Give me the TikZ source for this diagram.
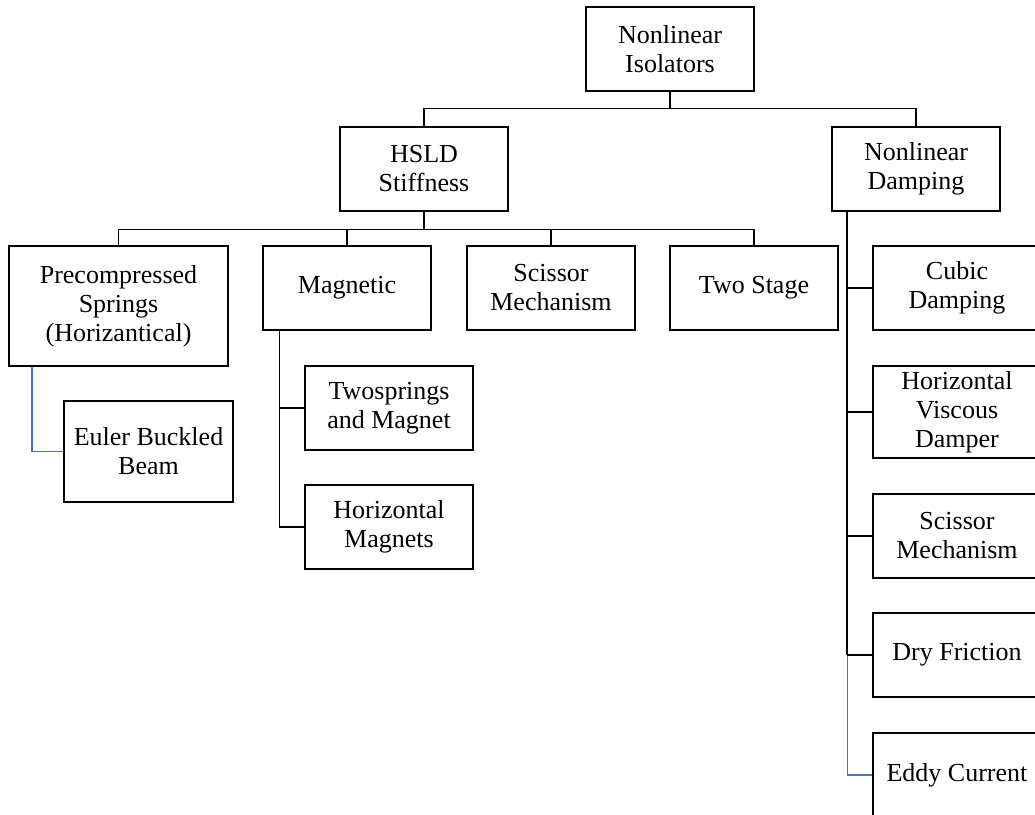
\documentclass[tikz,border=0pt]{standalone}
\usepackage{fontspec}
\setmainfont{Liberation Serif}
\definecolor{linkblue}{RGB}{68,114,196}
\begin{document}
\begin{tikzpicture}[x=1pt,y=-1pt,
  box/.style={draw=black, line width=1.2pt, fill=white, inner sep=0pt,
    align=center, minimum width=168pt, minimum height=84pt,
    font=\fontsize{26}{29}\selectfont},
  link/.style={draw=black, line width=1.2pt},
  trunk/.style={draw=black, line width=2pt},
  bluelink/.style={draw=linkblue, line width=1.8pt}]
\clip (0,0) rectangle (1035,814);
\fill[white] (0,0) rectangle (1035,814);

% top level
\node[box] (root) at (670,49) {Nonlinear\\Isolators};
\node[box] (hsld) at (424,169) {HSLD\\Stiffness};
\node[box] (nd)   at (916,169) {Nonlinear\\Damping};

% stiffness branch
\node[box, minimum width=219pt, minimum height=120pt] (pre) at (118.5,306) {Precompressed\\Springs\\(Horizantical)};
\node[box] (mag) at (347,288) {Magnetic};
\node[box] (sci) at (551,288) {Scissor\\Mechanism};
\node[box] (two) at (754,288) {Two Stage};
\node[box, minimum width=169pt, minimum height=101pt] (euler) at (148.5,451.5) {Euler Buckled\\Beam};
\node[box] (tsm)  at (389,408) {Twosprings\\and Magnet};
\node[box] (hmag) at (389,527) {Horizontal\\Magnets};

% damping branch
\node[box] (cub)  at (957,288) {Cubic\\Damping};
\node[box, minimum height=92pt] (hvd) at (957,412) {Horizontal\\Viscous\\Damper};
\node[box] (sm2)  at (957,536) {Scissor\\Mechanism};
\node[box] (dry)  at (957,655) {Dry Friction};
\node[box] (eddy) at (957,775) {Eddy Current};

% top connectors
\draw[link] (root.south) -- ++(0,17) -| (hsld.north);
\draw[link] (root.south) -- ++(0,17) -| (nd.north);
\draw[trunk] (hsld.south) -- ++(0,18);
\foreach \c in {pre,mag,sci,two}
  \draw[link] (hsld.south) -- ++(0,18) -| (\c.north);

% side connectors
\draw[bluelink] ([xshift=23.5pt]pre.south west) |- (euler.west);
\draw[link] ([xshift=17pt]mag.south west) |- (tsm.west);
\draw[link] ([xshift=17pt]mag.south west) |- (hmag.west);

\coordinate (ndtrunk) at ([xshift=16pt]nd.south west);
\draw[bluelink] (ndtrunk |- dry.west) |- (eddy.west);
\draw[trunk] (ndtrunk) -- (ndtrunk |- dry.west);
\foreach \c in {cub,hvd,sm2,dry}
  \draw[link] (ndtrunk |- \c.west) -- (\c.west);
\end{tikzpicture}
\end{document}
